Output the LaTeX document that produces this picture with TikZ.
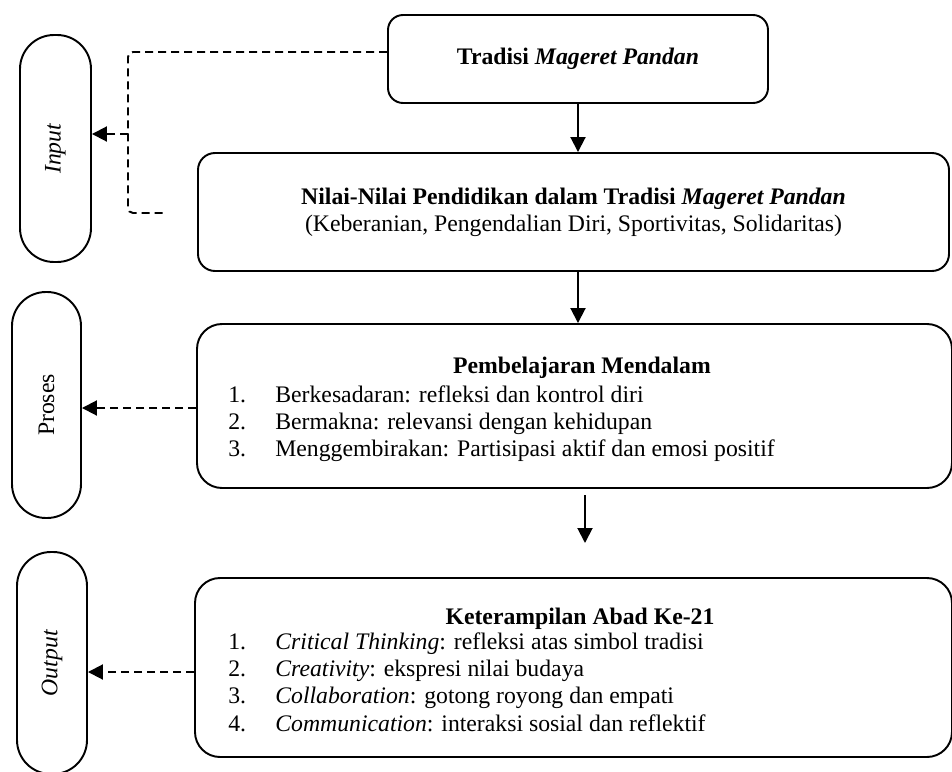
\documentclass[tikz,border=0pt]{standalone}
\usepackage{fontspec}
\setmainfont{Liberation Serif}
\usepackage{tikz}
\usetikzlibrary{shapes,arrows.meta}
\newcommand{\pointlist}[1]{%
  {\renewcommand{\arraystretch}{1}%
   \begin{tabular}{@{}p{0.94cm}@{}l@{}}#1\end{tabular}}}
\tikzset{
  flowbox/.style   = {draw, line width=1.1pt, rounded corners=0.3cm,
                      inner sep=0pt, align=center},
  sidebox/.style   = {draw, line width=1.1pt, rounded corners=0.68cm,
                      minimum width=1.4cm, inner sep=0pt},
  sidelabel/.style = {rotate=90, inner sep=0pt},
  solidarrow/.style = {line width=1.1pt, -{Triangle[length=0.3cm,width=0.3cm]}},
  dasharrow/.style  = {line width=1.1pt, dash pattern=on 0.16cm off 0.1cm,
                       -{Triangle[length=0.3cm,width=0.3cm]}},
  dashline/.style   = {line width=1.1pt, dash pattern=on 0.16cm off 0.1cm}
}

\begin{document}
\begin{tikzpicture}[font=\fontsize{13.5}{15.4}\selectfont]
  \useasboundingbox (0,0) rectangle (19.04,-15.44);
  % main boxes
  \node[flowbox, minimum width=7.6cm, minimum height=1.76cm] (tradisi) at (11.56,-1.18)
    {\textbf{Tradisi \textit{Mageret Pandan}}};
  \node[flowbox, rounded corners=0.34cm, minimum width=15.02cm, minimum height=2.36cm] (nilai) at (11.47,-4.24)
    {\textbf{Nilai-Nilai Pendidikan dalam Tradisi \textit{Mageret Pandan}}\\
     (Keberanian, Pengendalian Diri, Sportivitas, Solidaritas)};
  \node[flowbox, rounded corners=0.5cm, minimum width=15.1cm, minimum height=3.28cm] (belajar) at (11.49,-8.12) {};
  \node[inner sep=0pt] (belajarT) at (11.64,-7.36) {\textbf{Pembelajaran Mendalam}};
  \node[inner sep=0pt, anchor=west] (belajarL) at (4.56,-8.48)
    {\pointlist{1. & Berkesadaran: refleksi dan kontrol diri\\
                2. & Bermakna: relevansi dengan kehidupan\\
                3. & Menggembirakan: Partisipasi aktif dan emosi positif}};
  \node[flowbox, rounded corners=0.5cm, minimum width=15.14cm, minimum height=3.58cm] (abad) at (11.47,-13.35) {};
  \node[inner sep=0pt] (abadT) at (11.6,-12.38) {\textbf{Keterampilan Abad Ke-21}};
  \node[inner sep=0pt, anchor=west] (abadL) at (4.56,-13.7)
    {\pointlist{1. & \textit{Critical Thinking}: refleksi atas simbol tradisi\\
                2. & \textit{Creativity}: ekspresi nilai budaya\\
                3. & \textit{Collaboration}: gotong royong dan empati\\
                4. & \textit{Communication}: interaksi sosial dan reflektif}};
  % side boxes
  \node[sidebox, minimum width=1.42cm, minimum height=4.54cm] (input) at (1.11,-2.97) {};
  \node[sidelabel] (inputL) at (input) {\textit{Input}};
  \node[sidebox, minimum width=1.38cm, minimum height=4.52cm] (proses) at (0.93,-8.1) {};
  \node[sidelabel] (prosesL) at (proses) {Proses};
  \node[sidebox, minimum width=1.4cm, minimum height=4.44cm] (output) at (1.04,-13.26) {};
  \node[sidelabel] (outputL) at (output) {\textit{Output}};
  % connectors
  \coordinate (inTurn) at (2.56,-2.68);
  \coordinate (inEnd) at (3.34,-4.26);
  \coordinate (gapTop) at (11.7,-9.9);
  \coordinate (gapBot) at (11.7,-10.86);
  \draw[solidarrow] (tradisi.south) -- (tradisi.south |- nilai.north);
  \draw[solidarrow] (tradisi.south |- nilai.south) -- (tradisi.south |- belajar.north);
  \draw[solidarrow] (gapTop) -- (gapBot);
  \draw[dashline, rounded corners=0.1cm] ([yshift=0.14cm]tradisi.west) -| (inTurn) |- (inEnd);
  \draw[dasharrow] (inTurn) -- (inTurn -| input.east);
  \draw[dasharrow] ([yshift=-0.04cm]belajar.west) -- ([yshift=-0.04cm]belajar.west -| proses.east);
  \draw[dasharrow] ([yshift=-0.09cm]abad.west) -- ([yshift=-0.09cm]abad.west -| output.east);
\end{tikzpicture}
\end{document}
